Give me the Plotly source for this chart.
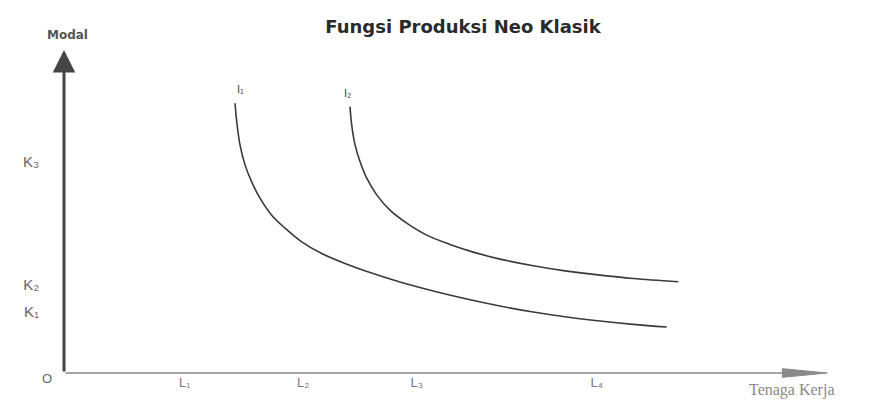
import plotly.graph_objects as go

# Isoquant I1 (labour, capital)
i1_labour = [2.138, 2.159, 2.20, 2.263, 2.346, 2.45, 2.596, 2.763, 2.971, 3.221, 3.513,
             3.846, 4.20, 4.616, 5.034, 5.45, 5.866, 6.284, 6.70, 7.116, 7.534]
i1_capital = [8.10, 7.55, 6.85, 6.25, 5.74, 5.25, 4.74, 4.35, 3.94, 3.59, 3.29,
              3.00, 2.73, 2.46, 2.22, 2.01, 1.83, 1.68, 1.56, 1.46, 1.38]
# Isoquant I2
i2_labour = [3.575, 3.596, 3.638, 3.700, 3.784, 3.909, 4.075, 4.284, 4.534, 4.825, 5.116,
             5.450, 5.866, 6.284, 6.700, 7.116, 7.679]
i2_capital = [8.00, 7.45, 6.85, 6.35, 5.85, 5.35, 4.89, 4.50, 4.14, 3.86, 3.63,
              3.42, 3.22, 3.06, 2.94, 2.84, 2.74]

curve_names = ["I\u2081", "I\u2082"]
k_ticks = [6.34, 2.64, 1.83]
k_labels = ["K\u2083", "K\u2082", "K\u2081"]
l_ticks = [1.51, 2.99, 4.41, 6.66]
l_labels = ["L\u2081", "L\u2082", "L\u2083", "L\u2084"]

title_text = "Fungsi Produksi Neo Klasik"
y_title = "Modal"
x_title = "Tenaga Kerja"

fig = go.Figure()
for xs, ys, nm, dx in [(i1_labour, i1_capital, curve_names[0], 5),
                       (i2_labour, i2_capital, curve_names[1], -3)]:
    fig.add_trace(go.Scatter(x=xs, y=ys, mode="lines", name=nm,
                             line=dict(color="#3a3a3a", width=1.6, shape="spline", smoothing=1.0),
                             hoverinfo="skip"))
    fig.add_annotation(x=xs[0], y=ys[0], text=nm, showarrow=False,
                       yshift=14, xshift=dx, font=dict(size=11, color="#444"))

# axes drawn as arrows
fig.add_annotation(x=0, y=9.7, ax=0, ay=0, xref="x", yref="y", axref="x", ayref="y",
                   showarrow=True, arrowhead=2, arrowsize=1.5, arrowwidth=3,
                   arrowcolor="#444", text="")
fig.add_annotation(x=9.0, y=0, ax=0, ay=0, xref="x", yref="y", axref="x", ayref="y",
                   showarrow=True, arrowhead=0, arrowwidth=1.4,
                   arrowcolor="#888", text="")
fig.add_shape(type="path", xref="x", yref="paper",
              path="M 8.98 -0.013 L 9.54 0 L 8.98 0.013 Z",
              fillcolor="#8a8a8a", line=dict(color="#8a8a8a", width=1))

fig.add_annotation(x=0.004, y=1.015, xref="paper", yref="paper", text="<b>" + y_title + "</b>",
                   showarrow=False, xanchor="center", yanchor="middle",
                   font=dict(size=12, color="#555", family="DejaVu Sans"))
fig.add_annotation(x=0, y=0, text="O", showarrow=False, xshift=-17, yshift=-5,
                   font=dict(size=13, color="#666"))
fig.add_annotation(x=0.854, y=-0.051, xref="paper", yref="paper", text=x_title,
                   showarrow=False, xanchor="left", yanchor="middle",
                   font=dict(size=16, color="#888", family="Liberation Serif"))

fig.update_layout(
    width=887, height=392,
    margin=dict(l=56, r=31, t=32, b=27, autoexpand=False),
    paper_bgcolor="white", plot_bgcolor="white",
    showlegend=False,
    title=dict(text="<b>" + title_text + "</b>", x=455 / 887, xanchor="center",
               y=1 - 19 / 392, yanchor="middle", yref="container",
               font=dict(size=18, color="#2a2a2a", family="DejaVu Sans")),
    font=dict(family="Liberation Sans"),
)
fig.update_xaxes(range=[0, 10], showgrid=False, zeroline=False, showline=False,
                 automargin=False,
                 tickvals=l_ticks, ticktext=l_labels, ticks="",
                 tickfont=dict(size=13, color="#777"))
fig.update_yaxes(range=[0, 10], showgrid=False, zeroline=False, showline=False,
                 automargin=False,
                 tickvals=k_ticks, ticktext=k_labels, ticks="", ticklabelstandoff=24,
                 tickfont=dict(size=15, color="#666"))

fig.write_html("out.html")
